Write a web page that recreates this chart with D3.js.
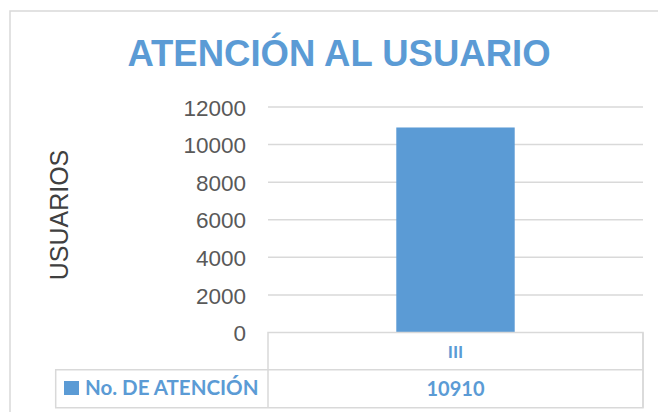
<!DOCTYPE html>
<html>
<head>
<meta charset="utf-8">
<script src="https://cdn.jsdelivr.net/npm/d3@7"></script>
<style>
    body { margin: 0; background: #fff; }
    .tick text { font-family: "Liberation Sans", Arial, sans-serif; fill: #595959; }
    .tbl { font-family: Lato, "Liberation Sans", sans-serif; font-weight: bold; fill: #5b9bd5; }
</style>
</head>
<body>
<div id="chart"></div>
<script>
// chart data
const categories = ["III"];
const values = [10910];
const yTicks = [0, 2000, 4000, 6000, 8000, 10000, 12000];
const seriesName = "No. DE ATENCIÓN";
const chartTitle = "ATENCIÓN AL USUARIO";
const yTitle = "USUARIOS";

const width = 658, height = 412;
const plot = { left: 268, right: 643, top: 107, bottom: 332.5 };
const barColor = "#5b9bd5";
const lineColor = "#d9d9d9";

const svg = d3.select("#chart")
    .append("svg")
    .attr("width", width)
    .attr("height", height);

// outer chart frame (runs off the right and bottom edge)
svg.append("rect")
    .attr("x", 10)
    .attr("y", 11)
    .attr("width", 700)
    .attr("height", 450)
    .attr("fill", "none")
    .attr("stroke", lineColor)
    .attr("stroke-width", 1.5);

const x = d3.scaleBand()
    .domain(categories)
    .range([plot.left, plot.right])
    .padding(0.52);

// table columns use the full band
const xCol = d3.scaleBand()
    .domain(categories)
    .range([plot.left, plot.right])
    .padding(0);

const y = d3.scaleLinear()
    .domain([0, 12000])
    .range([plot.bottom, plot.top]);

// gridlines
svg.append("g")
    .selectAll("line")
    .data(yTicks.filter(d => d > 0))
    .join("line")
    .attr("x1", plot.left)
    .attr("x2", plot.right)
    .attr("y1", d => y(d))
    .attr("y2", d => y(d))
    .attr("stroke", lineColor)
    .attr("stroke-width", 1.5);

// y axis labels
const yAxis = svg.append("g")
    .attr("transform", `translate(${plot.left}, 0)`)
    .call(d3.axisLeft(y).tickValues(yTicks).tickSize(0).tickPadding(22).tickFormat(d3.format("d")));
yAxis.select(".domain").remove();
yAxis.selectAll("text").style("font-size", "22.5px").attr("dy", "0.36em");

// bars
svg.append("g")
    .selectAll("rect")
    .data(values)
    .join("rect")
    .attr("x", (d, i) => x(categories[i]))
    .attr("width", x.bandwidth())
    .attr("y", d => y(d))
    .attr("height", d => y(0) - y(d))
    .attr("fill", barColor);

// title
svg.append("text")
    .attr("x", 339)
    .attr("y", 65.7)
    .attr("text-anchor", "middle")
    .attr("font-family", "'Liberation Sans', Arial, sans-serif")
    .attr("font-weight", "bold")
    .attr("font-size", 36.5)
    .attr("fill", barColor)
    .text(chartTitle);

// y-axis title
svg.append("text")
    .attr("transform", "rotate(-90)")
    .attr("x", -215)
    .attr("y", 68.3)
    .attr("text-anchor", "middle")
    .attr("font-family", "'Liberation Sans', Arial, sans-serif")
    .attr("font-size", 25)
    .attr("fill", "#404040")
    .text(yTitle);

// data table
const rowTop = plot.bottom, rowMid = 369.7, rowBot = 407.7, legendLeft = 55.7;
const table = svg.append("g")
    .attr("stroke", lineColor)
    .attr("stroke-width", 1.5)
    .attr("fill", "none");

table.append("path")
    .attr("d", `M${plot.left},${rowBot} V${rowTop} H${plot.right} V${rowBot} H${legendLeft} V${rowMid} H${plot.right}`);
table.selectAll(".col-sep")
    .data(categories)
    .join("line")
    .attr("class", "col-sep")
    .attr("x1", d => xCol(d) + xCol.bandwidth())
    .attr("x2", d => xCol(d) + xCol.bandwidth())
    .attr("y1", rowTop)
    .attr("y2", rowBot);

// category labels
svg.selectAll(".cat")
    .data(categories)
    .join("text")
    .attr("class", "tbl cat")
    .attr("x", d => xCol(d) + xCol.bandwidth() / 2)
    .attr("y", 358)
    .attr("text-anchor", "middle")
    .attr("font-size", 17.5)
    .text(d => d);

// value labels
svg.selectAll(".val")
    .data(values)
    .join("text")
    .attr("class", "tbl val")
    .attr("x", (d, i) => xCol(categories[i]) + xCol.bandwidth() / 2)
    .attr("y", 396)
    .attr("text-anchor", "middle")
    .attr("font-size", 20)
    .text(d => d);

// legend key
svg.append("rect")
    .attr("x", 64)
    .attr("y", 381)
    .attr("width", 15)
    .attr("height", 14)
    .attr("fill", barColor);

svg.append("text")
    .attr("class", "tbl")
    .attr("x", 85)
    .attr("y", 395)
    .attr("font-size", 20.5)
    .text(seriesName);
</script>
</body>
</html>
